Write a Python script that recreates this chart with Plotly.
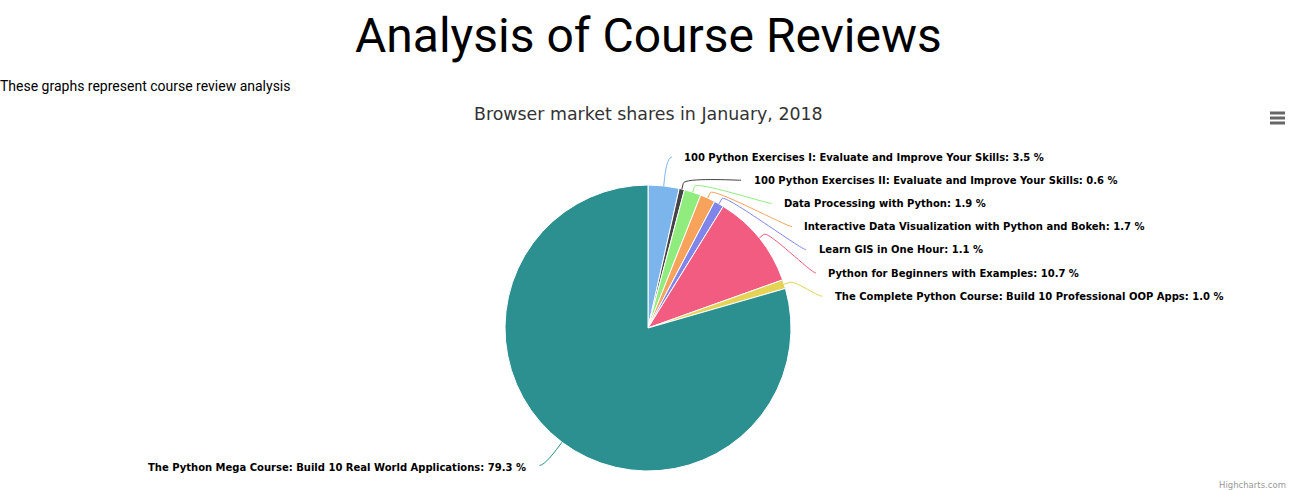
import math
import plotly.graph_objects as go

# ---- data ----
courses = [
    "100 Python Exercises I: Evaluate and Improve Your Skills",
    "100 Python Exercises II: Evaluate and Improve Your Skills",
    "Data Processing with Python",
    "Interactive Data Visualization with Python and Bokeh",
    "Learn GIS in One Hour",
    "Python for Beginners with Examples",
    "The Complete Python Course: Build 10 Professional OOP Apps",
    "The Python Mega Course: Build 10 Real World Applications",
]
shares = [3.5, 0.6, 1.9, 1.7, 1.1, 10.7, 1.0, 79.3]
colors = ["#7cb5ec", "#434348", "#90ed7d", "#f7a35c",
          "#8085e9", "#f15c80", "#e4d354", "#2b908f"]

page_title = "Analysis of Course Reviews"
page_text = "These graphs represent course review analysis"
chart_title = "Browser market shares in January, 2018"
credits = "Highcharts.com"

# ---- layout geometry (pixels) ----
W, H = 1297, 490
cx, cy, r = 648, 328, 143
R = 172            # label circle
spacing = 23.2     # min vertical gap between labels
label_font = dict(family="DejaVu Sans", size=10, color="#000000", weight=700)

fig = go.Figure()
fig.add_trace(go.Pie(
    values=shares, labels=courses, sort=False, direction="clockwise", rotation=0,
    marker=dict(colors=colors, line=dict(color="#ffffff", width=1)),
    textinfo="none", showlegend=False, hoverinfo="label+percent",
    domain=dict(x=[(cx - r) / W, (cx + r) / W], y=[(H - cy - r) / H, (H - cy + r) / H]),
))
fig.add_trace(go.Scatter(x=[], y=[], showlegend=False))

total = sum(shares)
cum = 0
points = []
for name, v, col in zip(courses, shares, colors):
    theta = 2 * math.pi * (cum + v / 2) / total
    cum += v
    points.append(dict(name=name, v=v, col=col, th=theta,
                       right=math.sin(theta) >= 0,
                       ny=cy - R * math.cos(theta)))

shapes = []
annotations = []
for side in (True, False):
    grp = sorted([p for p in points if p["right"] == side], key=lambda p: p["ny"])
    prev = None
    for p in grp:
        y = p["ny"] if prev is None else max(p["ny"], prev + spacing)
        prev = y
        dy = max(-R, min(R, y - cy))
        xc = math.sqrt(R * R - dy * dy)
        sgn = 1 if side else -1
        xc = cx + sgn * xc
        lx = xc + sgn * 5
        tx = xc + sgn * (15.5 if side else 17)
        s, c = math.sin(p["th"]), math.cos(p["th"])
        tX, tY = cx + r * s, cy - r * c
        bX, bY = cx + (r + 6) * s, cy - (r + 6) * c
        cX, cY = 2 * bX - tX, 2 * bY - tY
        path = (f"M {lx:.2f},{y:.2f} C {lx - sgn * 5:.2f},{y:.2f} {cX:.2f},{cY:.2f} "
                f"{bX:.2f},{bY:.2f} L {tX:.2f},{tY:.2f}")
        shapes.append(dict(type="path", path=path, xref="x", yref="y",
                           line=dict(color=p["col"], width=1), layer="above"))
        ty = y + (0 if side else 2.5)
        annotations.append(dict(x=tx, y=ty, xref="x", yref="y", showarrow=False,
                                text=f"{p['name']}: {p['v']:.1f} %",
                                xanchor="left" if side else "right", yanchor="middle",
                                font=label_font))

# hamburger menu icon
for yy in (113, 118, 123):
    shapes.append(dict(type="line", x0=1270, x1=1285, y0=yy, y1=yy, xref="x", yref="y",
                       line=dict(color="#666666", width=3)))

annotations += [
    dict(x=W / 2, y=35, text=page_title, showarrow=False, xref="x", yref="y",
         xanchor="center", yanchor="middle",
         font=dict(family="Roboto", size=48, color="#000000")),
    dict(x=0, y=86, xshift=-2, text=page_text, showarrow=False, xref="x", yref="y",
         xanchor="left", yanchor="middle",
         font=dict(family="Roboto", size=14, color="#000000")),
    dict(x=648.5, y=114, text=chart_title, showarrow=False, xref="x", yref="y",
         xanchor="center", yanchor="middle",
         font=dict(family="DejaVu Sans", size=17.4, color="#333333")),
    dict(x=1288, y=485, text=credits, showarrow=False, xref="x", yref="y",
         xanchor="right", yanchor="middle",
         font=dict(family="DejaVu Sans", size=8.5, color="#999999")),
]

fig.update_layout(
    width=W, height=H, margin=dict(l=0, r=0, t=0, b=0),
    paper_bgcolor="#ffffff", plot_bgcolor="rgba(0,0,0,0)",
    xaxis=dict(range=[0, W], visible=False, fixedrange=True),
    yaxis=dict(range=[H, 0], visible=False, fixedrange=True),
    shapes=shapes, annotations=annotations,
)
fig.write_html("out.html", config={"displayModeBar": False})
